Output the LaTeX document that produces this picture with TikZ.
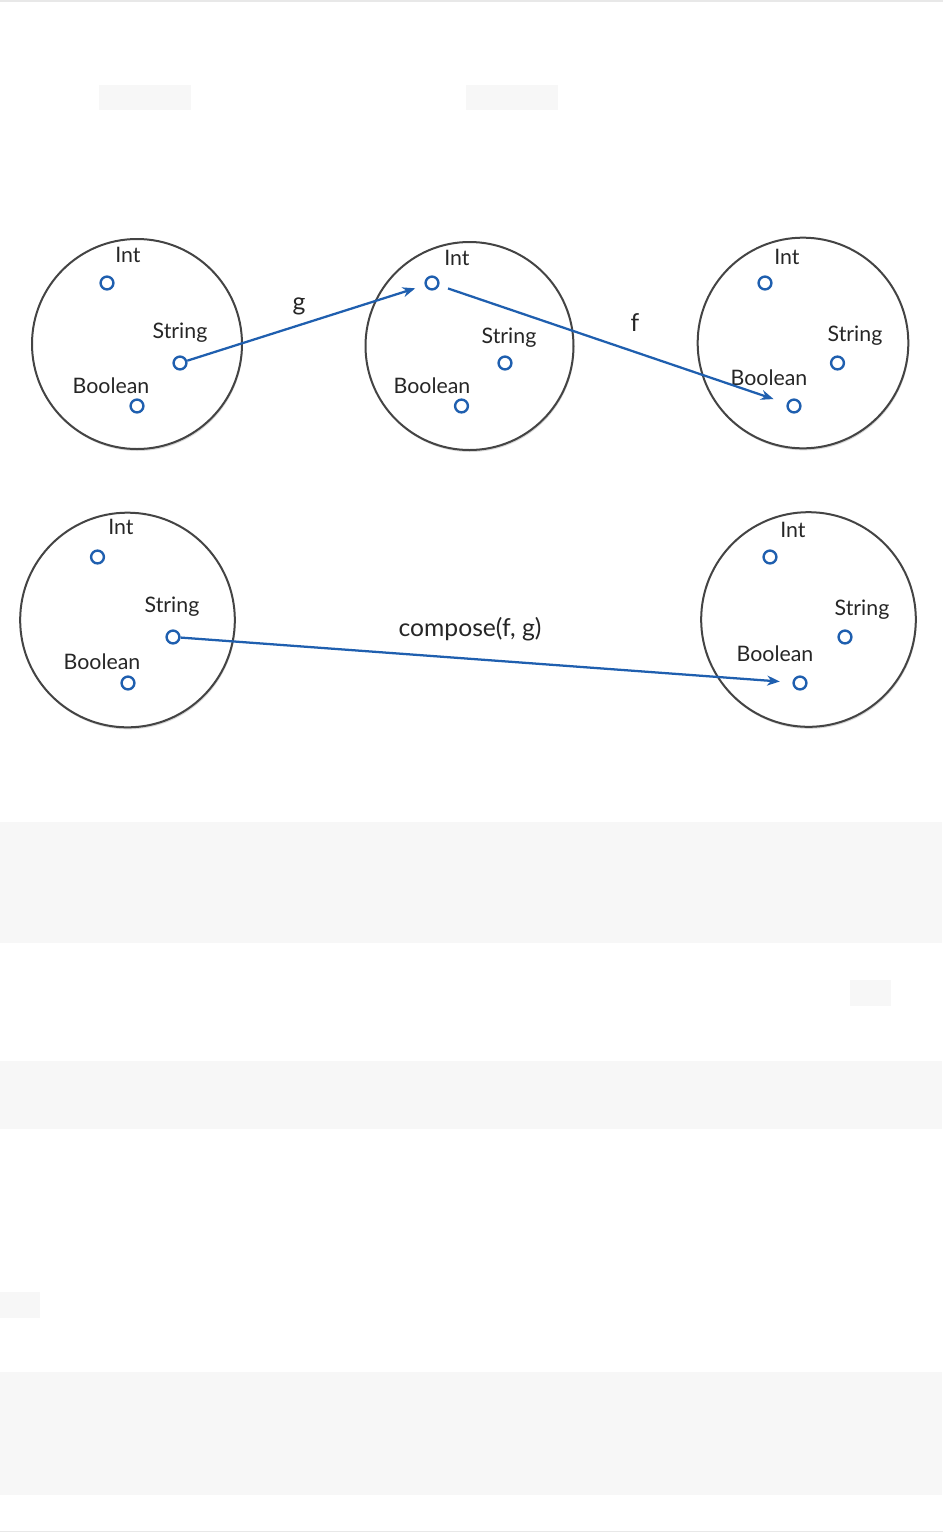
\documentclass[tikz,border=0pt]{standalone}
\usepackage{fontspec}
\setmainfont{Lato}
\usetikzlibrary{arrows.meta,shadows}
\definecolor{dotblue}{RGB}{31,95,175}
\definecolor{ringgrey}{RGB}{68,68,68}
\definecolor{codebg}{RGB}{247,247,247}
\definecolor{rulegrey}{RGB}{232,232,232}
\tikzset{
  settype/.style={circle, draw=ringgrey, line width=1.5pt, fill=white, minimum size=#1, inner sep=0pt,
    drop shadow={shadow xshift=0.6pt, shadow yshift=-1.5pt, opacity=0.3, fill=black!50}},
  elem/.style={circle, draw=dotblue, line width=1.8pt, fill=white, minimum size=9.6pt, inner sep=0pt},
  lbl/.style={font=\fontsize{16}{19}\selectfont, text=black!85, inner sep=0pt},
  fnlbl/.style={font=\fontsize{18.5}{21}\selectfont, text=black!85, inner sep=0pt},
  maparrow/.style={draw=dotblue, line width=1.7pt, -{Stealth[length=9.5pt,width=7.5pt]}},
  codebox/.style={fill=codebg, draw=none}
}
\begin{document}
\begin{tikzpicture}[x=0.75pt,y=-0.75pt]
\useasboundingbox (0,0) rectangle (943,1532);
\fill[white] (0,0) rectangle (943,1532);
% page rules
\fill[rulegrey] (0,0) rectangle (943,1.5);
\fill[rulegrey] (0,1530.5) rectangle (943,1532);
% empty code backgrounds
\fill[codebox] (99,85) rectangle (191,110);
\fill[codebox] (466,85) rectangle (558,110);
\fill[codebox] (0,822) rectangle (942,943);
\fill[codebox] (850,980) rectangle (891,1006);
\fill[codebox] (0,1061) rectangle (942,1129);
\fill[codebox] (0,1292) rectangle (40,1318);
\fill[codebox] (0,1372) rectangle (942,1495);

% ---------- top row ----------
\node[settype=157.5pt] (A) at (137,344) {};
\node[settype=156pt] (B) at (469.5,346) {};
\node[settype=158pt] (C) at (803,343) {};

\node[elem] (aint) at (107,283) {};
\node[elem] (astr) at (180,363) {};
\node[elem] (abool) at (137,406) {};
\node[lbl] (aintl) at (128,255) {Int};
\node[lbl] (astrl) at (180,333) {String};
\node[lbl] (abooll) at (111,386) {Boolean};

\node[elem] (bint) at (432,283) {};
\node[elem] (bstr) at (505,363) {};
\node[elem] (bbool) at (461.5,406) {};
\node[lbl] (bintl) at (457,258) {Int};
\node[lbl] (bstrl) at (509,338) {String};
\node[lbl] (bbooll) at (432,386) {Boolean};

\node[elem] (cint) at (765,283) {};
\node[elem] (cstr) at (837.5,363) {};
\node[elem] (cbool) at (794,406) {};
\node[lbl] (cintl) at (787,257) {Int};
\node[lbl] (cstrl) at (855,336) {String};
\node[lbl] (cbooll) at (769,378) {Boolean};

\node[fnlbl] (g) at (299,306) {g};
\node[fnlbl] (f) at (635,323) {f};

\draw[maparrow, shorten >=7.5pt] (astr) -- (bint);
\draw[maparrow, shorten <=7pt, shorten >=10.5pt] (bint) -- (cbool);

% ---------- bottom row ----------
\node[settype=161pt] (D) at (127.5,620) {};
\node[settype=161pt] (E) at (808.5,619.5) {};

\node[elem] (dint) at (97.5,557) {};
\node[elem] (dstr) at (173,637) {};
\node[elem] (dbool) at (128,683) {};
\node[lbl] (dintl) at (121,527) {Int};
\node[lbl] (dstrl) at (172,607) {String};
\node[lbl] (dbooll) at (102,662) {Boolean};

\node[elem] (eint) at (770,557) {};
\node[elem] (estr) at (845,637) {};
\node[elem] (ebool) at (800,683) {};
\node[lbl] (eintl) at (793,530) {Int};
\node[lbl] (estrl) at (862,610) {String};
\node[lbl] (ebooll) at (775,654) {Boolean};

\node[fnlbl] (comp) at (470,629) {compose(f, g)};

\draw[maparrow, shorten >=9.5pt] (dstr) -- (ebool);
\end{tikzpicture}
\end{document}
